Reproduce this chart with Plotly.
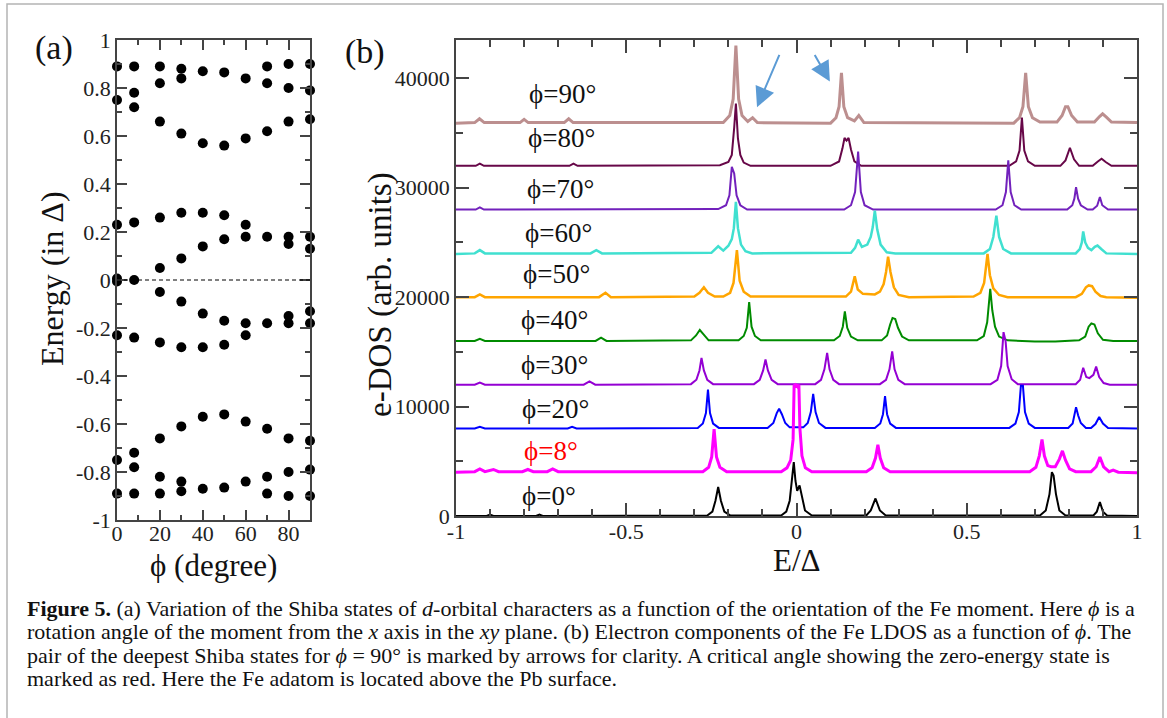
import plotly.graph_objects as go

W, H = 1167, 718
FONT = "Liberation Serif"

# ---------------- Panel (a): Shiba state energies vs phi ----------------
phi_deg = [0, 8, 20, 30, 40, 50, 60, 70, 80, 90]
E_phi0 = [0.89, 0.75, 0.23, 0.006, -0.006, -0.23, -0.75, -0.89]
E_phi8 = [0.89, 0.78, 0.72, 0.24, 0.0, -0.24, -0.72, -0.78, -0.89]
E_phi20 = [0.89, 0.82, 0.66, 0.26, 0.05, -0.05, -0.26, -0.66, -0.82, -0.89]
E_phi30 = [0.88, 0.84, 0.61, 0.28, 0.09, -0.09, -0.28, -0.61, -0.84, -0.88]
E_phi40 = [0.87, 0.57, 0.28, 0.14, -0.14, -0.28, -0.57, -0.87]
E_phi50 = [0.865, 0.56, 0.27, 0.17, -0.17, -0.27, -0.56, -0.865]
E_phi60 = [0.84, 0.59, 0.23, 0.18, -0.18, -0.23, -0.59, -0.84]
E_phi70 = [0.89, 0.82, 0.62, 0.18, -0.18, -0.62, -0.82, -0.89]
E_phi80 = [0.90, 0.80, 0.66, 0.18, 0.15, -0.15, -0.18, -0.66, -0.80, -0.90]
E_phi90 = [0.90, 0.79, 0.67, 0.18, 0.13, -0.13, -0.18, -0.67, -0.79, -0.90]
energies_a = [E_phi0, E_phi8, E_phi20, E_phi30, E_phi40,
              E_phi50, E_phi60, E_phi70, E_phi80, E_phi90]

a_xticks = [0, 20, 40, 60, 80]
a_yticks = [-1, -0.8, -0.6, -0.4, -0.2, 0, 0.2, 0.4, 0.6, 0.8, 1]
a_yticktext = ["-1", "-0.8", "-0.6", "-0.4", "-0.2", "0", "0.2", "0.4", "0.6", "0.8", "1"]

# ---------------- Panel (b): e-DOS curves (E/Delta, DOS) ----------------
ldos_90 = [(-1.000, 35900), (-0.945, 35950), (-0.931, 36300), (-0.917, 35950),
           (-0.812, 35950), (-0.800, 36250), (-0.788, 35950),
           (-0.682, 35950), (-0.669, 36300), (-0.656, 35950),
           (-0.215, 35950), (-0.196, 36600), (-0.186, 38100), (-0.178, 43000), (-0.170, 38100),
           (-0.160, 36600), (-0.143, 36050), (-0.129, 36400), (-0.115, 35950),
           (0.100, 35900), (0.116, 36400), (0.125, 37400), (0.132, 40500), (0.139, 37400),
           (0.150, 36400), (0.170, 36100), (0.183, 36600), (0.198, 35950),
           (0.638, 35900), (0.655, 36400), (0.665, 37400), (0.673, 40500), (0.681, 37400),
           (0.693, 36400), (0.715, 36000),
           (0.765, 36000), (0.780, 36600), (0.790, 37400), (0.797, 37400), (0.808, 36600), (0.825, 36000),
           (0.875, 36000), (0.890, 36500), (0.899, 36750), (0.910, 36450), (0.925, 36000),
           (1.000, 35950)]
ldos_80 = [(-1.000, 32000), (-0.942, 32000), (-0.930, 32200), (-0.918, 32000),
           (-0.667, 32000), (-0.655, 32200), (-0.643, 32000),
           (-0.225, 32050), (-0.200, 32350), (-0.190, 33000), (-0.183, 35500), (-0.178, 37700),
           (-0.172, 34500), (-0.165, 33000), (-0.155, 32300), (-0.135, 32000),
           (0.100, 32000), (0.125, 32400), (0.135, 33600), (0.141, 34550), (0.147, 34300),
           (0.153, 34550), (0.160, 33500), (0.170, 32400), (0.190, 32000),
           (0.625, 32000), (0.645, 32400), (0.655, 33400), (0.662, 36400), (0.669, 33400),
           (0.680, 32400), (0.700, 32000),
           (0.775, 32000), (0.790, 32500), (0.803, 33650), (0.815, 32600), (0.830, 32000),
           (0.870, 32000), (0.885, 32400), (0.896, 32650), (0.908, 32350), (0.925, 32000),
           (1.000, 32000)]
ldos_70 = [(-1.000, 28000), (-0.942, 28000), (-0.930, 28200), (-0.918, 28000),
           (-0.230, 28050), (-0.207, 28400), (-0.197, 29300), (-0.190, 31900), (-0.183, 31300),
           (-0.176, 29300), (-0.165, 28400), (-0.145, 28000),
           (0.140, 28000), (0.160, 28400), (0.172, 29600), (0.181, 33300), (0.189, 29600),
           (0.200, 28400), (0.225, 28000),
           (0.585, 28000), (0.605, 28400), (0.615, 29600), (0.622, 32500), (0.629, 29600),
           (0.640, 28400), (0.660, 28000),
           (0.795, 28000), (0.810, 28400), (0.816, 29000), (0.821, 30050), (0.827, 29000),
           (0.835, 28400), (0.855, 28000),
           (0.870, 28000), (0.883, 28350), (0.891, 29150), (0.898, 28400), (0.915, 28000),
           (1.000, 28000)]
ldos_60 = [(-1.000, 23950), (-0.945, 24000), (-0.930, 24300), (-0.915, 24000),
           (-0.605, 24000), (-0.588, 24300), (-0.571, 24000),
           (-0.250, 24050), (-0.230, 24650), (-0.215, 24250),
           (-0.200, 24700), (-0.190, 25300), (-0.184, 26300), (-0.178, 28700), (-0.172, 26300),
           (-0.163, 24800), (-0.150, 24200), (-0.130, 24000),
           (0.160, 24050), (0.172, 24500), (0.181, 25250), (0.192, 24600),
           (0.208, 24800), (0.218, 25500), (0.224, 26400), (0.230, 27900), (0.237, 26200),
           (0.247, 24800), (0.265, 24100), (0.290, 24000),
           (0.550, 24000), (0.568, 24400), (0.578, 25500), (0.587, 27450), (0.595, 25500),
           (0.607, 24400), (0.630, 24000),
           (0.820, 24000), (0.832, 24400), (0.838, 25000), (0.842, 26000), (0.848, 25000),
           (0.856, 24500), (0.866, 24300),
           (0.876, 24600), (0.884, 24720), (0.895, 24400), (0.910, 24000),
           (1.000, 23950)]
ldos_50 = [(-1.000, 20000), (-0.945, 20000), (-0.930, 20250), (-0.915, 20000),
           (-0.580, 20000), (-0.561, 20400), (-0.545, 20000),
           (-0.300, 20050), (-0.285, 20400), (-0.272, 20900), (-0.260, 20400), (-0.240, 20050),
           (-0.215, 20050), (-0.195, 20400), (-0.185, 21300), (-0.175, 24300), (-0.167, 21500),
           (-0.155, 20500), (-0.135, 20050),
           (0.145, 20050), (0.160, 20500), (0.171, 21900), (0.180, 20700), (0.195, 20300), (0.230, 20250),
           (0.245, 20500), (0.256, 21200), (0.263, 22300), (0.269, 23700), (0.276, 22300),
           (0.286, 20900), (0.300, 20200), (0.330, 20000),
           (0.520, 20050), (0.540, 20400), (0.551, 21300), (0.561, 23950), (0.568, 22000),
           (0.578, 20800), (0.595, 20200), (0.620, 20000),
           (0.820, 20000), (0.838, 20300), (0.850, 20900), (0.858, 21070), (0.868, 21000),
           (0.878, 20500), (0.893, 20100), (0.910, 20000),
           (1.000, 19950)]
ldos_40 = [(-1.000, 16000), (-0.945, 16000), (-0.930, 16200), (-0.915, 16000),
           (-0.590, 16000), (-0.574, 16300), (-0.558, 16000),
           (-0.310, 16050), (-0.295, 16500), (-0.284, 17000), (-0.273, 16600), (-0.258, 16050),
           (-0.170, 16050), (-0.155, 16450), (-0.146, 17200), (-0.139, 19550), (-0.132, 17300),
           (-0.122, 16450), (-0.105, 16050),
           (0.110, 16050), (0.127, 16450), (0.136, 17300), (0.142, 18700), (0.149, 17200),
           (0.160, 16400), (0.180, 16050),
           (0.250, 16050), (0.266, 16500), (0.275, 17500), (0.282, 18100), (0.290, 18000),
           (0.298, 17200), (0.310, 16400), (0.330, 16050),
           (0.530, 16050), (0.550, 16450), (0.560, 17700), (0.569, 20750), (0.575, 18800),
           (0.583, 17300), (0.595, 16400), (0.620, 16050),
           (0.700, 15950), (0.760, 15950),
           (0.830, 16050), (0.848, 16400), (0.858, 17300), (0.866, 17600), (0.875, 17500),
           (0.885, 16700), (0.900, 16100), (0.930, 16000),
           (1.000, 16000)]
ldos_30 = [(-1.000, 12000), (-0.945, 12000), (-0.930, 12200), (-0.915, 12000),
           (-0.625, 12000), (-0.608, 12300), (-0.591, 12000),
           (-0.310, 12050), (-0.294, 12450), (-0.285, 13300), (-0.279, 14450), (-0.272, 13300),
           (-0.262, 12450), (-0.245, 12050),
           (-0.125, 12050), (-0.108, 12450), (-0.098, 13300), (-0.091, 14300), (-0.084, 13300),
           (-0.073, 12450), (-0.055, 12050),
           (0.055, 12050), (0.072, 12450), (0.082, 13400), (0.090, 14900), (0.097, 13400),
           (0.108, 12450), (0.125, 12050),
           (0.245, 12050), (0.263, 12450), (0.273, 13400), (0.281, 15050), (0.288, 13400),
           (0.299, 12450), (0.318, 12050),
           (0.570, 12050), (0.590, 12450), (0.601, 13700), (0.608, 16800), (0.614, 16000),
           (0.620, 13700), (0.632, 12500), (0.650, 12050),
           (0.820, 12050), (0.833, 12450), (0.842, 13550), (0.851, 12700), (0.860, 12600),
           (0.872, 12900), (0.880, 13650), (0.889, 12700), (0.902, 12150), (0.920, 12000),
           (1.000, 12000)]
ldos_20 = [(-1.000, 8000), (-0.945, 8000), (-0.930, 8150), (-0.915, 8000),
           (-0.672, 8000), (-0.659, 8150), (-0.646, 8000),
           (-0.290, 8050), (-0.275, 8450), (-0.266, 9400), (-0.260, 11550), (-0.254, 9400),
           (-0.245, 8450), (-0.228, 8050),
           (-0.085, 8050), (-0.068, 8500), (-0.058, 9400), (-0.051, 9800), (-0.043, 9300),
           (-0.033, 8500), (-0.020, 8100), (0.010, 8050),
           (0.020, 8100), (0.033, 8500), (0.042, 9500), (0.049, 11150), (0.056, 9500),
           (0.066, 8500), (0.085, 8050),
           (0.230, 8050), (0.246, 8450), (0.254, 9300), (0.260, 10950), (0.266, 9300),
           (0.275, 8450), (0.292, 8050),
           (0.625, 8050), (0.643, 8450), (0.653, 9500), (0.659, 11900), (0.665, 11900),
           (0.671, 9500), (0.682, 8450), (0.700, 8050),
           (0.798, 8050), (0.811, 8450), (0.817, 9200), (0.821, 9950), (0.827, 9200),
           (0.835, 8500), (0.850, 8050),
           (0.865, 8050), (0.878, 8400), (0.889, 9050), (0.900, 8450), (0.915, 8050),
           (1.000, 8000)]
ldos_8 = [(-1.000, 4000), (-0.945, 4050), (-0.930, 4300), (-0.915, 4050), (-0.890, 4250), (-0.875, 4050),
          (-0.805, 4050), (-0.789, 4250), (-0.773, 4050), (-0.732, 4050), (-0.716, 4300), (-0.700, 4050),
          (-0.275, 4050), (-0.258, 4450), (-0.249, 5400), (-0.242, 7950), (-0.235, 5400),
          (-0.225, 4450), (-0.205, 4050),
          (-0.045, 4050), (-0.028, 4400), (-0.017, 5100), (-0.010, 7000), (-0.007, 11900),
          (-0.003, 12000), (0.003, 11800), (0.007, 12000), (0.010, 8000), (0.016, 5500),
          (0.026, 4400), (0.045, 4050),
          (0.205, 4050), (0.222, 4400), (0.232, 5300), (0.239, 6500), (0.246, 5300),
          (0.256, 4400), (0.275, 4050),
          (0.685, 4050), (0.703, 4450), (0.713, 5500), (0.721, 7000), (0.728, 5500),
          (0.738, 4600), (0.748, 4500),
          (0.760, 4500), (0.772, 5200), (0.781, 5950), (0.790, 5100), (0.802, 4300), (0.820, 4050),
          (0.865, 4050), (0.880, 4500), (0.891, 5400), (0.902, 4500), (0.918, 4050),
          (0.930, 4200), (0.945, 4000),
          (1.000, 3950)]
ldos_0 = [(-1.000, 0), (-0.910, 0), (-0.900, 120), (-0.890, 0), (-0.765, 0), (-0.755, 120), (-0.745, 0),
          (-0.262, 50), (-0.247, 400), (-0.238, 1400), (-0.230, 2650), (-0.222, 1400),
          (-0.212, 400), (-0.195, 50),
          (-0.045, 50), (-0.030, 400), (-0.020, 1400), (-0.013, 3300), (-0.008, 4930),
          (-0.003, 3200), (0.002, 2300), (0.009, 2800), (0.015, 1800), (0.025, 500), (0.045, 50),
          (0.205, 50), (0.218, 500), (0.232, 1600), (0.245, 500), (0.262, 50),
          (0.715, 50), (0.732, 500), (0.743, 2000), (0.750, 4000), (0.755, 3700),
          (0.762, 2000), (0.772, 500), (0.790, 50),
          (0.872, 50), (0.882, 400), (0.891, 1280), (0.900, 400), (0.912, 50),
          (1.000, 0)]

curves_b = [ldos_90, ldos_80, ldos_70, ldos_60, ldos_50, ldos_40, ldos_30, ldos_20, ldos_8, ldos_0]
curve_labels = ["ϕ=90°", "ϕ=80°", "ϕ=70°", "ϕ=60°", "ϕ=50°", "ϕ=40°", "ϕ=30°", "ϕ=20°", "ϕ=8°", "ϕ=0°"]
curve_colors = ["#bc8f8f", "#670748", "#7221bc", "#40e0d0", "#ffa500", "#008b00",
                "#9400d3", "#0000ff", "#ff00ff", "#000000"]
curve_widths = [3, 2, 2, 2.5, 2.5, 2, 2, 2, 3, 2]
label_colors = ["#111"] * 8 + ["#ff0000", "#111"]
label_x = [-0.791, -0.794, -0.797, -0.803, -0.809, -0.815, -0.815, -0.812, -0.806, -0.812]
label_y = [38600, 34500, 29900, 25900, 22160, 17880, 13770, 9740, 5900, 1800]

b_xticks = [-1, -0.5, 0, 0.5, 1]
b_xticktext = ["-1", "-0.5", "0", "0.5", "1"]
b_yticks = [0, 10000, 20000, 30000, 40000]
b_yticktext = ["0", "10000", "20000", "30000", "40000"]

caption_lines = [
    "<b>Figure 5.</b> (a) Variation of the Shiba states of <i>d</i>-orbital characters as a function of the orientation of the Fe moment. Here <i>ϕ</i> is a",
    "rotation angle of the moment from the <i>x</i> axis in the <i>xy</i> plane. (b) Electron components of the Fe LDOS as a function of <i>ϕ</i>. The",
    "pair of the deepest Shiba states for <i>ϕ</i> = 90° is marked by arrows for clarity. A critical angle showing the zero-energy state is",
    "marked as red. Here the Fe adatom is located above the Pb surface.",
]
caption_y_px = [608, 631, 655, 678]

# ---------------- figure ----------------
fig = go.Figure()

xs, ys = [], []
for p, es in zip(phi_deg, energies_a):
    xs += [p] * len(es)
    ys += es
fig.add_trace(go.Scatter(x=xs, y=ys, mode="markers", xaxis="x", yaxis="y",
                         marker=dict(color="black", size=10), cliponaxis=False,
                         showlegend=False, hoverinfo="skip"))

for data, col, w in zip(curves_b, curve_colors, curve_widths):
    ex, dv = zip(*data)
    fig.add_trace(go.Scatter(x=list(ex), y=list(dv), mode="lines", xaxis="x2", yaxis="y2",
                             line=dict(color=col, width=w), showlegend=False, hoverinfo="skip"))

AX = "#444"
def ax_common(major_len, minor_len, minor_dtick):
    return dict(showline=True, linecolor=AX, linewidth=1.5, mirror="ticks",
                ticks="inside", ticklen=major_len, tickwidth=1.5, tickcolor=AX,
                minor=dict(dtick=minor_dtick, ticks="inside", ticklen=minor_len,
                           tickwidth=1.5, tickcolor=AX),
                showgrid=False, zeroline=False, automargin=False,
                tickfont=dict(family=FONT, size=22, color="#222"))

def px2x(p):
    return p / W

def px2y(p):
    return 1 - p / H

fig.update_layout(
    width=W, height=H, margin=dict(l=0, r=0, t=0, b=0, autoexpand=False),
    paper_bgcolor="white", plot_bgcolor="white", showlegend=False,
    xaxis=dict(domain=[px2x(117), px2x(310)], range=[0, 90], anchor="y",
               tickvals=a_xticks, ticklabelstandoff=-7, **ax_common(10, 5, 10)),
    yaxis=dict(domain=[px2y(520), px2y(40)], range=[-1, 1], anchor="x",
               tickvals=a_yticks, ticktext=a_yticktext, ticklabelstandoff=0,
               **ax_common(10, 5, 0.1)),
    xaxis2=dict(domain=[px2x(456), px2x(1137)], range=[-1, 1], anchor="y2",
                tickvals=b_xticks, ticktext=b_xticktext, ticklabelstandoff=-5,
                **ax_common(13, 7, 0.1)),
    yaxis2=dict(domain=[px2y(516), px2y(40)], range=[0, 43500], anchor="x2",
                tickvals=b_yticks, ticktext=b_yticktext, ticklabelstandoff=0,
                **ax_common(13, 7, 5000)),
)

shapes = [
    dict(type="line", xref="x", yref="y", x0=0, x1=90, y0=0, y1=0,
         line=dict(color="black", width=1, dash="4px,3px")),
    dict(type="rect", xref="paper", yref="paper", x0=px2x(7), x1=px2x(1163),
         y0=-0.1, y1=px2y(4), line=dict(color="#b4b4b4", width=1.5)),
]
fig.update_layout(shapes=shapes)

def centered(text, xp, yp, size, angle=0, color="#111"):
    return dict(text=text, x=px2x(xp), y=px2y(yp), xref="paper", yref="paper",
                xanchor="center", yanchor="middle", textangle=angle, showarrow=False,
                font=dict(family=FONT, size=size, color=color))

ann = []
ann.append(centered("(a)", 54, 48, 34))
ann.append(centered("(b)", 365, 52, 34))
ann.append(centered("Energy (in Δ)", 52, 279, 32, -90))
ann.append(centered("ϕ (degree)", 213, 565, 31))
ann.append(centered("e-DOS (arb. units)", 380, 295, 33, -90))
ann.append(centered("E/Δ", 796, 560, 31))
# curve labels
for t, lx, ly, c in zip(curve_labels, label_x, label_y, label_colors):
    ann.append(dict(text=t, x=lx, y=ly, xref="x2", yref="y2", xanchor="left",
                    yanchor="middle", showarrow=False,
                    font=dict(family=FONT, size=27, color=c)))
# arrows marking the deepest Shiba pair at phi = 90
ann.append(dict(text="", x=-0.116, y=37350, xref="x2", yref="y2", ax=23, ay=-54,
                showarrow=True, arrowhead=2, arrowsize=2, arrowwidth=2,
                arrowcolor="#5b9bd5"))
ann.append(dict(text="", x=0.098, y=39700, xref="x2", yref="y2", ax=-16, ay=-28,
                showarrow=True, arrowhead=2, arrowsize=2, arrowwidth=2,
                arrowcolor="#5b9bd5"))
# caption
for line, ypx in zip(caption_lines, caption_y_px):
    ann.append(dict(text=line, x=px2x(25), y=px2y(ypx), xref="paper", yref="paper",
                    xanchor="left", yanchor="middle", showarrow=False,
                    font=dict(family=FONT, size=22, color="#111")))
fig.update_layout(annotations=ann)

fig.write_html("out.html")
